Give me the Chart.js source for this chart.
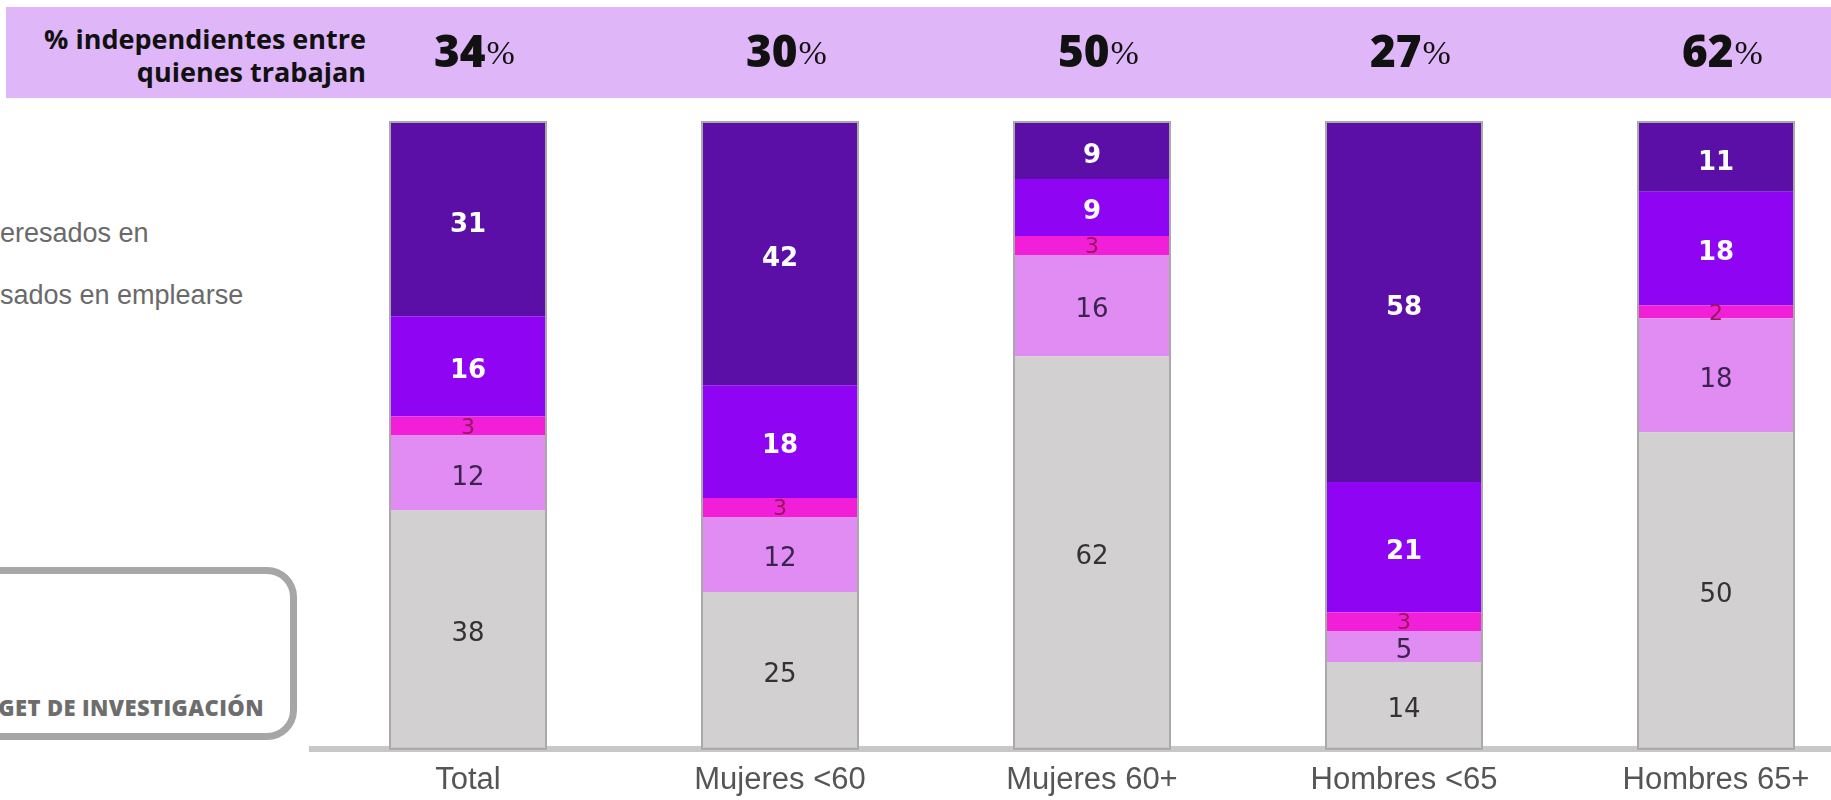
<!DOCTYPE html>
<html>
<head>
<meta charset="utf-8">
<script src="https://cdn.jsdelivr.net/npm/chart.js@4.4.0/dist/chart.umd.min.js"></script>
<style>
  body { margin: 0; width: 1831px; height: 800px; overflow: hidden; background: #fff; position: relative; }
  #banner { position: absolute; left: 6px; top: 7px; width: 1825px; height: 91px; background: #dfb6f8; }
  #bannerTitle { position: absolute; left: 0; top: 22px; width: 366px; text-align: right;
    font: 700 27px "Open Sans", sans-serif; line-height: 33px; color: #111; }
  .legendLine { position: absolute; left: 0; font: 27px "Liberation Sans", sans-serif; color: #6a6a6a; white-space: nowrap; line-height: 30px; }
  #box { position: absolute; left: -40px; top: 567px; width: 337px; height: 173px; box-sizing: border-box;
    border: 7px solid #a6a6a6; border-radius: 30px; }
  #boxText { position: absolute; left: -200px; width: 464px; top: 694px; text-align: right; white-space: nowrap;
    font: 800 22px "Open Sans", sans-serif; letter-spacing: 0.4px; line-height: 26px; color: #6d6d6d; }
  #wrap { position: absolute; left: 0; top: 0; width: 1880px; height: 812px; }
</style>
</head>
<body>
<div id="banner"></div>
<div id="bannerTitle">% independientes entre<br>quienes trabajan</div>
<div class="legendLine" style="top:218px">eresados en</div>
<div class="legendLine" style="top:280px">sados en emplearse</div>
<div id="box"></div>
<div id="boxText">GET DE INVESTIGACIÓN</div>
<div id="wrap"><canvas id="myChart" width="1880" height="812"></canvas></div>
<script>
// categories
const labels = ["Total", "Mujeres <60", "Mujeres 60+", "Hombres <65", "Hombres 65+"];

// series values (% of each group), bottom to top
const noInteresados = [38, 25, 62, 14, 50];
const interesados = [12, 12, 16, 5, 18];
const desocupados = [3, 3, 3, 3, 2];
const independientes = [16, 18, 9, 21, 18];
const dependientes = [31, 42, 9, 58, 11];

// banner: % independientes entre quienes trabajan
const pctIndependientes = [34, 30, 50, 27, 62];

const series = [noInteresados, interesados, desocupados, independientes, dependientes];
// rounded values don't always add to 100, bars are drawn as 100% stacks
const totals = labels.map((_, j) => series.reduce((s, arr) => s + arr[j], 0));
const share = (arr) => arr.map((v, j) => (v / totals[j]) * 100);

const darkLabel = "26px 'DejaVu Sans'";
const whiteLabel = "bold 26px 'DejaVu Sans'";

const chartdata = {
  labels,
  datasets: [
    { label: "Inactivos no interesados en emplearse", data: share(noInteresados), raw: noInteresados,
      backgroundColor: "#d2d0d0", labelFont: darkLabel, labelColor: "#333333", labelShift: 5 },
    { label: "Inactivos interesados en emplearse", data: share(interesados), raw: interesados,
      backgroundColor: "#e08cf2", labelFont: darkLabel, labelColor: "#3b2350", labelShift: 5 },
    { label: "Desocupados", data: share(desocupados), raw: desocupados,
      backgroundColor: "#f21fd8", labelFont: "22px 'DejaVu Sans'", labelColor: "#9a1560", labelShift: 2 },
    { label: "Ocupados independientes", data: share(independientes), raw: independientes,
      backgroundColor: "#8f04f2", labelFont: whiteLabel, labelColor: "#ffffff", labelShift: 5 },
    { label: "Ocupados dependientes", data: share(dependientes), raw: dependientes,
      backgroundColor: "#5b0fa6", labelFont: whiteLabel, labelColor: "#ffffff", labelShift: 6 },
  ],
};

// outline round each full stack
const stackOutline = {
  id: "stackOutline",
  afterDatasetsDraw(chart) {
    const ctx = chart.ctx;
    const first = chart.getDatasetMeta(0).data;
    const last = chart.getDatasetMeta(chart.data.datasets.length - 1).data;
    ctx.save();
    ctx.strokeStyle = "#a9a9a9";
    ctx.lineWidth = 2;
    first.forEach((bar, j) => {
      const x = bar.x - bar.width / 2;
      ctx.strokeRect(x, last[j].y, bar.width, bar.base - last[j].y);
    });
    ctx.restore();
  },
};

// value in the middle of each segment
const segmentLabels = {
  id: "segmentLabels",
  afterDatasetsDraw(chart) {
    const ctx = chart.ctx;
    chart.data.datasets.forEach((ds, i) => {
      chart.getDatasetMeta(i).data.forEach((bar, j) => {
        ctx.save();
        ctx.font = ds.labelFont;
        ctx.fillStyle = ds.labelColor;
        ctx.textAlign = "center";
        ctx.textBaseline = "middle";
        ctx.fillText(ds.raw[j], bar.x, (bar.y + bar.base) / 2 + ds.labelShift);
        ctx.restore();
      });
    });
  },
};

// big % numbers in the banner, above each bar
const bannerNumbers = {
  id: "bannerNumbers",
  afterDraw(chart) {
    const ctx = chart.ctx;
    const xs = chart.scales.x;
    const numFont = "800 44px 'Open Sans'";
    const pctFont = "300 34px 'Liberation Sans Narrow'";
    ctx.save();
    ctx.textBaseline = "middle";
    ctx.textAlign = "left";
    ctx.fillStyle = "#111";
    pctIndependientes.forEach((v, j) => {
      const cx = xs.getPixelForValue(j) + 6;
      ctx.font = numFont;
      const w1 = ctx.measureText(String(v)).width;
      ctx.font = pctFont;
      const w2 = ctx.measureText("%").width;
      const x0 = cx - (w1 + w2) / 2;
      ctx.font = numFont;
      ctx.fillText(String(v), x0, 54);
      ctx.font = pctFont;
      ctx.fillText("%", x0 + w1 + 1, 55);
    });
    ctx.restore();
  },
};

const config = {
  type: "bar",
  data: chartdata,
  options: {
    responsive: false,
    animation: false,
    layout: { padding: { left: 312, right: 8, top: 122, bottom: 0 } },
    plugins: { legend: { display: false }, tooltip: { enabled: false } },
    datasets: { bar: { barPercentage: 0.5, categoryPercentage: 1.0, borderWidth: 0 } },
    scales: {
      x: {
        stacked: true,
        grid: { display: false, drawTicks: false },
        border: { display: true, color: "#c8c8c8", width: 6 },
        ticks: { color: "#555", padding: 13, font: { family: "Liberation Sans", size: 31 } },
      },
      y: { stacked: true, display: false, min: 0, max: 100 },
    },
  },
  plugins: [stackOutline, segmentLabels, bannerNumbers],
};

const ctx = document.querySelector("#myChart");
const myChart = new Chart(ctx, config);
</script>
</body>
</html>
